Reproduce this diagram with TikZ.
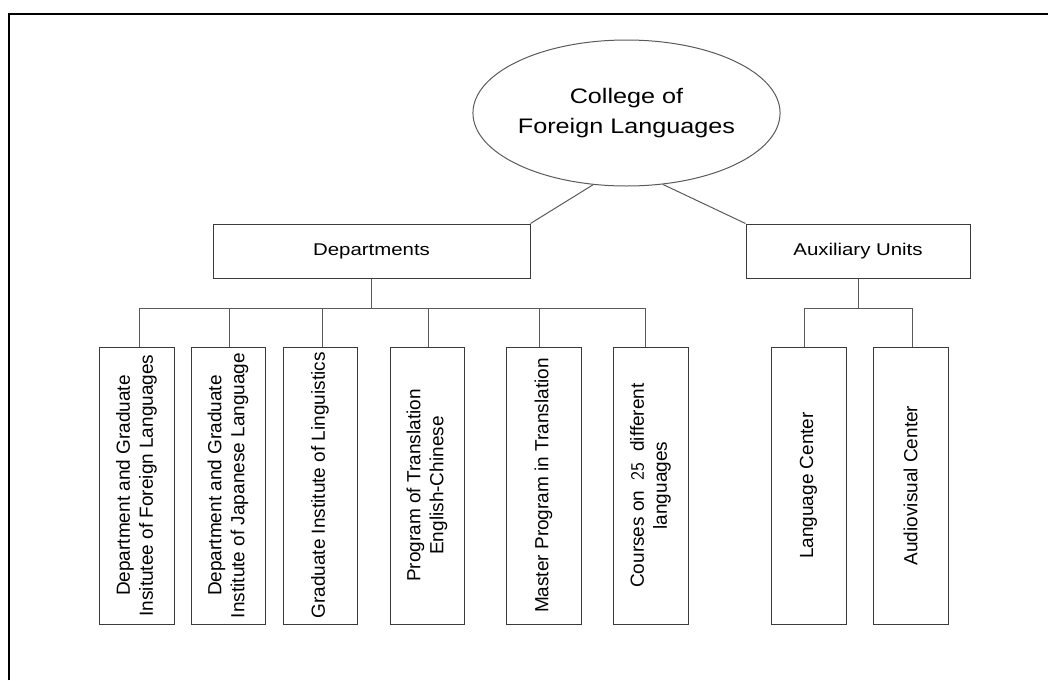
\documentclass[tikz,border=0pt]{standalone}
\usepackage{fontspec}
\setmainfont{Liberation Sans}
\newfontfamily\widefont[FakeStretch=1.2]{Liberation Sans}
\usetikzlibrary{shapes.geometric}
\definecolor{boxline}{HTML}{3A3A3A}
\definecolor{conline}{HTML}{5A5A5A}
\tikzset{
  frame/.style={line width=2pt, black},
  hbox/.style={draw=boxline, line width=1pt, rectangle, inner sep=0pt,
    minimum height=54pt, font=\widefont\fontsize{17}{20}\selectfont},
  vbox/.style={draw=boxline, line width=1pt, rectangle, inner sep=0pt,
    minimum width=75pt, minimum height=277pt},
  vtext/.style={rotate=90, align=center, inner sep=0pt,
    font=\fontsize{19}{23}\selectfont},
  conn/.style={draw=conline, line width=1pt},
  topell/.style={draw=conline, line width=1pt, ellipse, inner sep=0pt,
    minimum width=291pt, minimum height=146pt, align=center,
    font=\widefont\fontsize{21}{29.5}\selectfont}
}
\begin{document}
\begin{tikzpicture}[x=1pt, y=-1pt]
\useasboundingbox (0,0) rectangle (1048,680);
% frame
\coordinate (fl) at (9,680);
\coordinate (ftl) at (9,14);
\coordinate (fr) at (1048,14);
\draw[frame] (fl) -- (ftl) -- (fr);

% top
\node[topell] (coll) at (626.5,113) {College of\\Foreign Languages};

% second level
\node[hbox, minimum width=317pt] (dep) at (371.5,251) {Departments};
\node[hbox, minimum width=224pt] (aux) at (858,251) {Auxiliary Units};

\draw[conn] (dep.north east) -- (coll.-115);
\draw[conn] (aux.north west) -- (coll.-63);

% department boxes
\node[vbox, minimum width=75pt] (b1) at (136.5,485.5) {};
\node[vbox, minimum width=74pt] (b2) at (228,485.5) {};
\node[vbox, minimum width=74pt] (b3) at (320,485.5) {};
\node[vbox, minimum width=74pt] (b4) at (427,485.5) {};
\node[vbox, minimum width=75pt] (b5) at (543.5,485.5) {};
\node[vbox, minimum width=75pt] (b6) at (650.5,485.5) {};
\node[vtext] (b1t) at (b1) {Department and Graduate\\Insitutee of Foreign Languages};
\node[vtext] (b2t) at (b2) {Department and Graduate\\Institute of Japanese Language};
\node[vtext] (b3t) at (b3) {Graduate Institute of Linguistics};
\node[vtext] (b4t) at (b4) {Program of Translation\\English-Chinese};
\node[vtext] (b5t) at (b5) {Master Program in Translation};
\node[vtext] (b6t) at (b6) {Courses on\ \ {\sffamily 25}\ \ different\\languages};

% auxiliary boxes
\node[vbox] (a1) at (808.5,485.5) {};
\node[vbox] (a2) at (910.5,485.5) {};
\node[vtext] (a1t) at (a1) {Language Center};
\node[vtext] (a2t) at (a2) {Audiovisual Center};

% department bus
\coordinate (t1) at (139,308);
\coordinate (t2) at (229,308);
\coordinate (t3) at (322,308);
\coordinate (t4) at (428,308);
\coordinate (t5) at (539,308);
\coordinate (t6) at (645,308);
\draw[conn] (t1) -- (t6);
\draw[conn] (dep.south) -- (dep.south |- t1);
\foreach \i in {1,...,6} {
  \draw[conn] (t\i) -- (t\i |- b\i.north);
}

% auxiliary bus
\coordinate (u1) at (804,308);
\coordinate (u2) at (912,308);
\draw[conn] (u1) -- (u2);
\draw[conn] (aux.south) -- (aux.south |- u1);
\draw[conn] (u1) -- (u1 |- a1.north);
\draw[conn] (u2) -- (u2 |- a2.north);
\end{tikzpicture}
\end{document}
